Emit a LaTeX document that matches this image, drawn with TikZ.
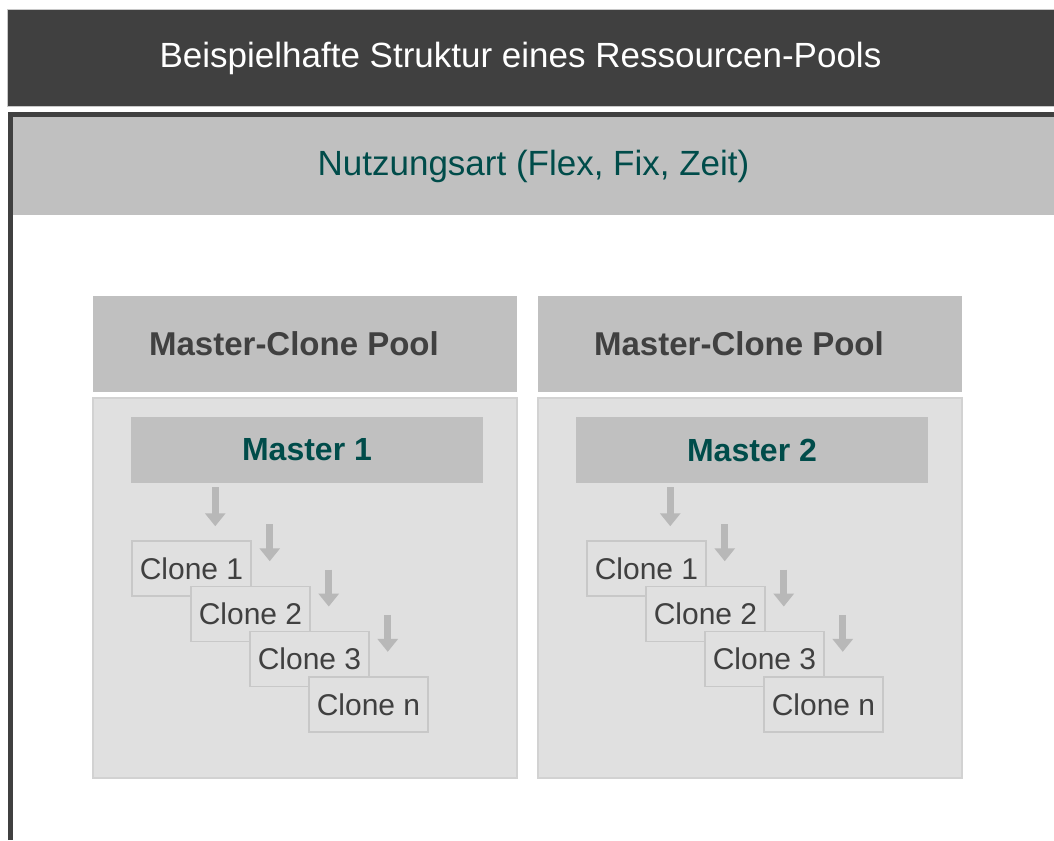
\documentclass[tikz,border=0pt]{standalone}
\usepackage{fontspec}
\setmainfont{Liberation Sans}
\usetikzlibrary{arrows.meta,positioning}

\definecolor{dunkel}{HTML}{404040}
\definecolor{mittel}{HTML}{C0C0C0}
\definecolor{hell}{HTML}{E0E0E0}
\definecolor{rand}{HTML}{C8C8C8}
\definecolor{petrol}{HTML}{004C4A}
\definecolor{pfeil}{HTML}{B8B8B8}

\tikzset{
  titel/.style={fill=dunkel, draw=rand, line width=1pt, inner sep=0pt,
    minimum width=1047pt, minimum height=97pt},
  titeltext/.style={text=white, font=\fontsize{35}{40}\selectfont},
  band/.style={fill=mittel, text=petrol, inner sep=0pt,
    minimum width=1041pt, minimum height=98pt, font=\fontsize{35}{40}\selectfont},
  poolkopf/.style={fill=mittel, inner sep=0pt, outer sep=0pt,
    minimum width=424pt, minimum height=96pt},
  kopftext/.style={text=dunkel, font=\bfseries\fontsize{33}{38}\selectfont},
  poolinhalt/.style={fill=hell, draw=rand!60!hell, line width=1.5pt, inner sep=0pt, outer sep=0pt,
    minimum width=424pt, minimum height=380pt},
  master/.style={fill=mittel, text=petrol, inner sep=0pt,
    minimum width=352pt, minimum height=66pt, font=\bfseries\fontsize{32}{38}\selectfont},
  clone/.style={fill=hell, draw=rand, line width=1.5pt, text=dunkel, inner sep=0pt,
    minimum width=119pt, minimum height=55pt, font=\fontsize{30}{36}\selectfont},
  clonepfeil/.style={draw=pfeil, line width=7pt, -{Triangle[width=20pt,length=13pt]}}
}

\begin{document}
\begin{tikzpicture}[x=1pt, y=-1pt]
  \useasboundingbox[fill=white] (0,0) rectangle (1054,840);

  % Titre
  \node[titel, label={[titeltext, xshift=-10pt]center:Beispielhafte Struktur eines Ressourcen-Pools}]
    (titel) at (530.5,58.5) {};

  % Cadre et bandeau
  \draw[dunkel, line width=5pt] (10.5,840) -- (10.5,114.5) -- (1054,114.5);
  \node[band] (nutzung) at (533.5,166) {Nutzungsart (Flex, Fix, Zeit)};

  % Pools
  \foreach \m/\dx in {1/0, 2/445} {
    \node[poolkopf, label={[kopftext, xshift=-11pt]center:Master-Clone Pool}]
      (kopf\m) at (305+\dx,344) {};
    \node[poolinhalt, below=6pt of kopf\m] (pool\m) {};
    \node[master] (master\m) at (307+\dx,450) {Master \m};
  }

  % Clones
  \foreach \m/\dx in {1/0, 2/455} {
    \foreach \i/\lab in {0/1, 1/2, 2/3, 3/n} {
      \node[clone] (c\m\i) at (191.5+\dx+59*\i, 568.5+45.3*\i) {Clone \lab};
    }
    % Fleches
    \draw[clonepfeil] ([xshift=84pt, yshift=53pt]c\m0.north west) -- ++(0,39);
    \foreach \j in {0, 1, 2} {
      \draw[clonepfeil] ([xshift=18pt, yshift=16pt]c\m\j.north east) -- ++(0,37);
    }
  }
\end{tikzpicture}
\end{document}
